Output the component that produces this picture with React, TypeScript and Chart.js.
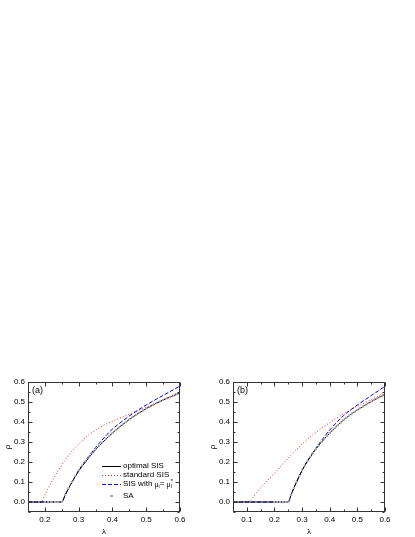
import React, { useEffect, useRef } from "react";
import { Chart, registerables } from "chart.js";
Chart.register(...registerables);

const FONT = "'Liberation Sans', Arial, Helvetica, sans-serif";

const Y_TICKS = [0, 0.1, 0.2, 0.3, 0.4, 0.5, 0.6];
const X_TICKS_A = [0.2, 0.3, 0.4, 0.5, 0.6];
const X_TICKS_B = [0.1, 0.2, 0.3, 0.4, 0.5, 0.6];

const SERIES_NAMES = ["optimal SIS", "standard SIS", "SIS with", "SA"];

// ---- panel (a) ----
const A_OPT_X = [0.15, 0.25, 0.26, 0.27, 0.28, 0.3, 0.32, 0.35, 0.38, 0.4, 0.45, 0.5, 0.55, 0.6];
const A_OPT_Y = [0, 0, 0.034, 0.068, 0.098, 0.155, 0.2, 0.262, 0.313, 0.345, 0.413, 0.467, 0.51, 0.545];

const A_STD_X = [0.15, 0.19, 0.2, 0.215, 0.23, 0.245, 0.26, 0.275, 0.3, 0.335, 0.365, 0.395, 0.42, 0.45, 0.5, 0.55, 0.6];
const A_STD_Y = [0, 0, 0.035, 0.085, 0.13, 0.172, 0.21, 0.243, 0.29, 0.342, 0.375, 0.4, 0.418, 0.439, 0.474, 0.512, 0.552];

const A_MU_X = [0.15, 0.25, 0.26, 0.28, 0.3, 0.32, 0.35, 0.38, 0.4, 0.42, 0.45, 0.5, 0.55, 0.6];
const A_MU_Y = [0, 0, 0.035, 0.1, 0.158, 0.207, 0.272, 0.33, 0.365, 0.392, 0.43, 0.485, 0.533, 0.58];

const A_SA_X = [0.2, 0.21, 0.22, 0.23, 0.24, 0.25, 0.26, 0.27, 0.28, 0.29, 0.3, 0.31, 0.32, 0.33, 0.34, 0.35, 0.36, 0.37, 0.38, 0.39, 0.4, 0.41, 0.42, 0.43, 0.44, 0.45, 0.46, 0.47, 0.48, 0.49, 0.5, 0.51, 0.52, 0.53, 0.54, 0.55, 0.56, 0.57, 0.58, 0.59, 0.6];
const A_SA_Y = [0, 0, 0, 0, 0, 0, 0.035, 0.07, 0.1, 0.13, 0.158, 0.183, 0.204, 0.224, 0.244, 0.263, 0.281, 0.298, 0.314, 0.33, 0.345, 0.359, 0.373, 0.387, 0.4, 0.413, 0.425, 0.436, 0.447, 0.457, 0.467, 0.476, 0.485, 0.494, 0.502, 0.51, 0.518, 0.525, 0.532, 0.539, 0.545];

// ---- panel (b) ----
const B_OPT_X = [0.05, 0.25, 0.26, 0.27, 0.28, 0.3, 0.32, 0.35, 0.38, 0.4, 0.45, 0.5, 0.55, 0.6];
const B_OPT_Y = [0, 0, 0.035, 0.07, 0.1, 0.158, 0.205, 0.265, 0.315, 0.345, 0.41, 0.46, 0.502, 0.538];

const B_STD_X = [0.05, 0.1, 0.15, 0.2, 0.25, 0.3, 0.35, 0.4, 0.45, 0.5, 0.55, 0.6];
const B_STD_Y = [0, 0, 0.072, 0.143, 0.22, 0.29, 0.348, 0.397, 0.44, 0.478, 0.512, 0.545];

const B_MU_X = [0.05, 0.25, 0.26, 0.28, 0.3, 0.32, 0.35, 0.38, 0.4, 0.45, 0.5, 0.55, 0.6];
const B_MU_Y = [0, 0, 0.035, 0.1, 0.158, 0.207, 0.27, 0.325, 0.36, 0.432, 0.485, 0.532, 0.578];

const B_SA_X = [0.2, 0.21, 0.22, 0.23, 0.24, 0.25, 0.26, 0.27, 0.28, 0.29, 0.3, 0.31, 0.32, 0.33, 0.34, 0.35, 0.36, 0.37, 0.38, 0.39, 0.4, 0.41, 0.42, 0.43, 0.44, 0.45, 0.46, 0.47, 0.48, 0.49, 0.5, 0.51, 0.52, 0.53, 0.54, 0.55, 0.56, 0.57, 0.58, 0.59, 0.6];
const B_SA_Y = [0, 0, 0, 0, 0, 0, 0.035, 0.07, 0.1, 0.13, 0.158, 0.183, 0.205, 0.225, 0.245, 0.265, 0.283, 0.3, 0.315, 0.33, 0.345, 0.358, 0.371, 0.384, 0.397, 0.41, 0.421, 0.432, 0.442, 0.451, 0.46, 0.469, 0.477, 0.486, 0.494, 0.502, 0.509, 0.517, 0.524, 0.531, 0.538];

const pts = (xs: number[], ys: number[]) => xs.map((x, i) => ({ x, y: ys[i] }));

const COLORS = { opt: "#000000", std: "#ff2020", mu: "#0000ff", sa: "#a8a8a8" };

function midpoints(arr: number[], lo: number, hi: number) {
  const step = arr.length > 1 ? arr[1] - arr[0] : 0.1;
  const out: number[] = [];
  for (let v = arr[0] - step / 2; v <= hi + 1e-9; v += step) {
    if (v >= lo - 1e-9) out.push(v);
  }
  return out;
}

const framePlugin = {
  id: "frameTicks",
  afterDatasetsDraw(chart: any, _args: any, opts: any) {
    const { ctx, chartArea } = chart;
    const L = Math.round(chartArea.left) + 0.5;
    const R = Math.round(chartArea.right) - 0.5;
    const T = Math.round(chartArea.top) + 0.5;
    const B = Math.round(chartArea.bottom) - 0.5;
    const xs = chart.scales.x;
    const ys = chart.scales.y;
    ctx.save();
    ctx.strokeStyle = "#333333";
    ctx.lineWidth = 1;
    ctx.strokeRect(L, T, R - L, B - T);
    const xMaj = opts.xMajor as number[];
    const xMin = midpoints(xMaj, xs.min, xs.max);
    const yMaj = opts.yMajor as number[];
    const yMin = midpoints(yMaj, ys.min, ys.max);
    ctx.beginPath();
    const drawX = (v: number, len: number) => {
      const p = Math.round(xs.getPixelForValue(v)) + 0.5;
      ctx.moveTo(p, B);
      ctx.lineTo(p, B - len);
      ctx.moveTo(p, T);
      ctx.lineTo(p, T + len);
    };
    const drawY = (v: number, len: number) => {
      const p = Math.round(ys.getPixelForValue(v)) + 0.5;
      ctx.moveTo(L, p);
      ctx.lineTo(L + len, p);
      ctx.moveTo(R, p);
      ctx.lineTo(R - len, p);
    };
    xMaj.forEach((v) => drawX(v, 4));
    xMin.forEach((v) => drawX(v, 2));
    yMaj.forEach((v) => drawY(v, 4));
    yMin.forEach((v) => drawY(v, 2));
    ctx.stroke();

    // panel tag
    ctx.fillStyle = "#000";
    ctx.font = `9px ${FONT}`;
    ctx.textBaseline = "top";
    ctx.textAlign = "left";
    ctx.fillText(opts.tag, chartArea.left + 4, chartArea.top + 4);

    if (opts.legend) {
      const x0 = chartArea.left + 74;
      const x1 = chartArea.left + 93;
      const tx = chartArea.left + 95;
      const rows = [84, 93, 102, 114].map((d) => chartArea.top + d);
      ctx.textBaseline = "middle";
      ctx.font = `8px ${FONT}`;
      ctx.lineWidth = 1;
      // optimal
      ctx.strokeStyle = COLORS.opt;
      ctx.setLineDash([]);
      ctx.beginPath();
      ctx.moveTo(x0, rows[0] + 0.5);
      ctx.lineTo(x1, rows[0] + 0.5);
      ctx.stroke();
      ctx.fillText(SERIES_NAMES[0], tx, rows[0]);
      // standard
      ctx.strokeStyle = COLORS.std;
      ctx.setLineDash([1, 2]);
      ctx.beginPath();
      ctx.moveTo(x0, rows[1] + 0.5);
      ctx.lineTo(x1, rows[1] + 0.5);
      ctx.stroke();
      ctx.fillText(SERIES_NAMES[1], tx, rows[1]);
      // mu
      ctx.strokeStyle = COLORS.mu;
      ctx.setLineDash([4, 2]);
      ctx.beginPath();
      ctx.moveTo(x0, rows[2] + 0.5);
      ctx.lineTo(x1, rows[2] + 0.5);
      ctx.stroke();
      ctx.setLineDash([]);
      let cx = tx;
      const put = (s: string, size: number, dy: number) => {
        ctx.font = `${size}px ${FONT}`;
        ctx.fillText(s, cx, rows[2] + dy);
        cx += ctx.measureText(s).width;
      };
      put(SERIES_NAMES[2] + " ", 8, 0);
      put("\u03bc", 7, 1);
      put("i", 5, 3);
      put("= ", 8, 0);
      put("\u03bc", 7, 1);
      const sx = cx;
      put("i", 5, 3);
      cx = sx;
      put("*", 6, -3);
      // SA
      ctx.font = `8px ${FONT}`;
      ctx.fillStyle = COLORS.sa;
      ctx.fillRect((x0 + x1) / 2 - 1.5, rows[3] - 1, 3, 2);
      ctx.fillStyle = "#000";
      ctx.fillText(SERIES_NAMES[3], tx, rows[3]);
    }
    ctx.restore();
  },
};

function makeConfig(panel: "a" | "b") {
  const isA = panel === "a";
  const xMajor = isA ? X_TICKS_A : X_TICKS_B;
  const datasets: any[] = [
    {
      label: SERIES_NAMES[3],
      data: pts(isA ? A_SA_X : B_SA_X, isA ? A_SA_Y : B_SA_Y),
      showLine: false,
      pointStyle: "rect",
      pointRadius: 1.4,
      pointBackgroundColor: COLORS.sa,
      pointBorderColor: COLORS.sa,
      pointBorderWidth: 0,
      order: 0,
    },
    {
      label: SERIES_NAMES[0],
      data: pts(isA ? A_OPT_X : B_OPT_X, isA ? A_OPT_Y : B_OPT_Y),
      borderColor: COLORS.opt,
      borderWidth: 1,
      pointRadius: 0,
      cubicInterpolationMode: "monotone",
      order: 1,
    },
    {
      label: SERIES_NAMES[2],
      data: pts(isA ? A_MU_X : B_MU_X, isA ? A_MU_Y : B_MU_Y),
      borderColor: COLORS.mu,
      borderWidth: 1,
      borderDash: [4, 2],
      pointRadius: 0,
      cubicInterpolationMode: "monotone",
      order: 2,
    },
    {
      label: SERIES_NAMES[1],
      data: pts(isA ? A_STD_X : B_STD_X, isA ? A_STD_Y : B_STD_Y),
      borderColor: COLORS.std,
      borderWidth: 1,
      borderDash: [1, 2],
      pointRadius: 0,
      cubicInterpolationMode: "monotone",
      order: 3,
    },
  ];
  return {
    type: "line" as const,
    data: { datasets },
    options: {
      animation: false,
      responsive: false,
      maintainAspectRatio: false,
      devicePixelRatio: 1,
      layout: { padding: { top: 22, right: isA ? 25 : 30, left: 0, bottom: 0 } },
      plugins: {
        legend: { display: false },
        tooltip: { enabled: false },
        frameTicks: { xMajor, yMajor: Y_TICKS, tag: isA ? "(a)" : "(b)", legend: isA },
      },
      scales: {
        x: {
          type: "linear",
          min: isA ? 0.15 : 0.05,
          max: 0.6,
          grid: { display: false, drawTicks: false },
          border: { display: false },
          afterBuildTicks: (s: any) => {
            s.ticks = xMajor.map((v) => ({ value: v }));
          },
          afterFit: (s: any) => {
            s.height = 25;
          },
          ticks: {
            padding: 3,
            color: "#000",
            font: { size: 8, family: FONT },
            maxRotation: 0,
            callback: (v: any) => Number(v).toFixed(1),
          },
          title: {
            display: true,
            text: "\u03bb",
            color: "#000",
            font: { size: 8, family: FONT },
            padding: { top: 0, bottom: 0 },
          },
        },
        y: {
          type: "linear",
          min: -0.05,
          max: 0.6,
          grid: { display: false, drawTicks: false },
          border: { display: false },
          afterBuildTicks: (s: any) => {
            s.ticks = Y_TICKS.map((v) => ({ value: v }));
          },
          afterFit: (s: any) => {
            s.width = 28;
          },
          ticks: {
            padding: 3,
            color: "#000",
            font: { size: 8, family: FONT },
            callback: (v: any) => Number(v).toFixed(1),
          },
          title: {
            display: true,
            text: "\u03c1",
            color: "#000",
            font: { size: 8, family: FONT },
            padding: { top: 3, bottom: 0 },
          },
        },
      },
    },
    plugins: [framePlugin],
  };
}

function Panel({ panel, left, width }: { panel: "a" | "b"; left: number; width: number }) {
  const ref = useRef<HTMLCanvasElement | null>(null);
  useEffect(() => {
    if (!ref.current) return;
    const chart = new Chart(ref.current, makeConfig(panel) as any);
    return () => chart.destroy();
  }, [panel]);
  return (
    <canvas
      ref={ref}
      width={width}
      height={177}
      style={{ position: "absolute", left, top: 360, width, height: 177 }}
    />
  );
}

export default function App() {
  return (
    <div
      style={{
        position: "absolute",
        left: 0,
        top: 0,
        width: 415,
        height: 537,
        background: "#fff",
        overflow: "hidden",
      }}
    >
      <Panel panel="a" left={0} width={205} />
      <Panel panel="b" left={205} width={210} />
    </div>
  );
}
